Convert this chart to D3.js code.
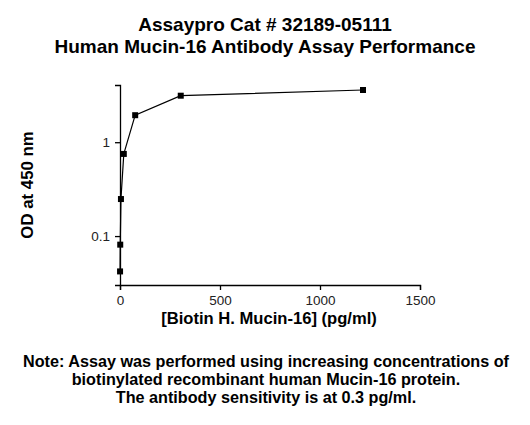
<!DOCTYPE html>
<html>
<head>
<meta charset="utf-8">
<script src="https://cdn.jsdelivr.net/npm/d3@7"></script>
<style>
  body { margin: 0; background: #fff; }
  text { font-family: "Liberation Sans", Arial, sans-serif; }
</style>
</head>
<body>
<svg id="chart" width="530" height="425"></svg>
<script>
// data
const concentrations = [0.30, 1.19, 4.75, 19, 75.9, 303.75, 1215];
const odValues = [0.042, 0.081, 0.248, 0.75, 1.94, 3.13, 3.6];
const xTicks = [0, 500, 1000, 1500];
const yTicks = [0.1, 1];
const titleLines = ["Assaypro Cat # 32189-05111", "Human Mucin-16 Antibody Assay Performance"];
const noteLines = [
  "Note: Assay was performed using increasing concentrations of",
  "biotinylated recombinant human Mucin-16 protein.",
  "The antibody sensitivity is at 0.3 pg/ml."
];

const points = concentrations.map((c, i) => ({ x: c, y: odValues[i] }));

const svg = d3.select("#chart");
const plotLeft = 120, plotRight = 420, plotTop = 85, plotBottom = 285;

const xScale = d3.scaleLinear().domain([0, 1500]).range([plotLeft, plotRight]);
const yScale = d3.scaleLog().domain([0.0301, 4.07]).range([plotBottom, plotTop]);

// titles
svg.append("g").selectAll("text")
  .data(titleLines)
  .join("text")
  .attr("x", 265)
  .attr("y", (d, i) => 31 + i * 22)
  .attr("text-anchor", "middle")
  .attr("font-size", 19)
  .attr("font-weight", "bold")
  .text(d => d);

// axes
const xAxis = svg.append("g")
  .attr("transform", `translate(0,${plotBottom})`)
  .call(d3.axisBottom(xScale).tickValues(xTicks).tickFormat(d3.format("d"))
    .tickSizeOuter(0).tickSize(5).tickPadding(5));

const yAxis = svg.append("g")
  .attr("transform", `translate(${plotLeft},0)`)
  .call(d3.axisLeft(yScale).tickValues(yTicks).tickFormat(d => d === 1 ? "1" : "0.1")
    .tickSizeOuter(0).tickSize(5).tickPadding(5));

[xAxis, yAxis].forEach(a => {
  a.select(".domain").attr("stroke", "#000").attr("stroke-width", 1.3);
  a.selectAll(".tick line").attr("stroke", "#000").attr("stroke-width", 1.3);
  a.selectAll(".tick text")
    .attr("font-size", 13.5)
    .attr("fill", "#222")
    .style("font-family", "'Liberation Sans', Arial, sans-serif");
});

// axis titles
svg.append("text")
  .attr("x", 269)
  .attr("y", 323.5)
  .attr("text-anchor", "middle")
  .attr("font-size", 16.6)
  .attr("font-weight", "bold")
  .text("[Biotin H. Mucin-16] (pg/ml)");

svg.append("text")
  .attr("transform", "translate(33,185) rotate(-90)")
  .attr("text-anchor", "middle")
  .attr("font-size", 16.8)
  .attr("font-weight", "bold")
  .text("OD at 450 nm");

// curve
const line = d3.line().x(d => xScale(d.x)).y(d => yScale(d.y));
svg.append("path")
  .datum(points)
  .attr("fill", "none")
  .attr("stroke", "#000")
  .attr("stroke-width", 1.2)
  .attr("d", line);

svg.append("g").selectAll("rect")
  .data(points)
  .join("rect")
  .attr("x", d => xScale(d.x) - 3)
  .attr("y", d => yScale(d.y) - 3)
  .attr("width", 6)
  .attr("height", 6)
  .attr("fill", "#000");

// note
svg.append("g").selectAll("text")
  .data(noteLines)
  .join("text")
  .attr("x", 266)
  .attr("y", (d, i) => 367 + i * 18)
  .attr("text-anchor", "middle")
  .attr("font-size", 16.2)
  .attr("font-weight", "bold")
  .text(d => d);
</script>
</body>
</html>
